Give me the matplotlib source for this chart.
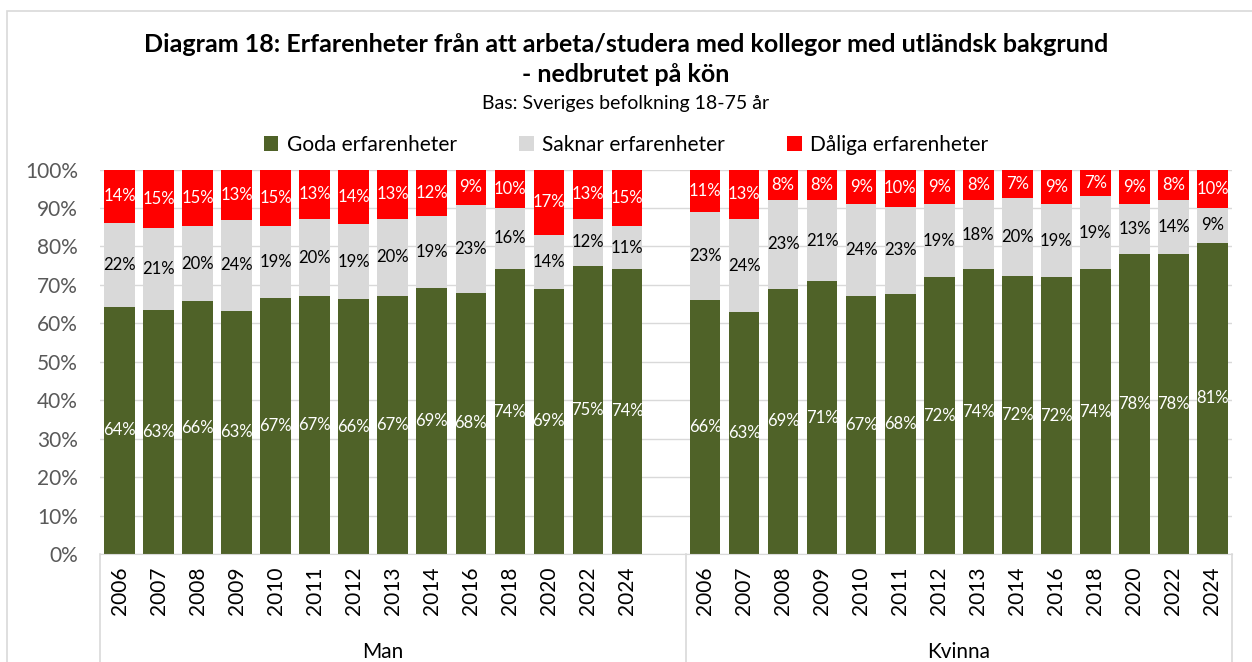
import matplotlib
matplotlib.use("Agg")
import matplotlib.pyplot as plt
import numpy as np
from matplotlib.patches import Rectangle
from matplotlib.lines import Line2D

plt.rcParams['font.family'] = ['Lato', 'DejaVu Sans']

# data
years = ["2006", "2007", "2008", "2009", "2010", "2011", "2012",
         "2013", "2014", "2016", "2018", "2020", "2022", "2024"]
groups = ["Man", "Kvinna"]
series_names = ["Goda erfarenheter", "Saknar erfarenheter", "Dåliga erfarenheter"]

man_goda = [64.3, 63.4, 65.7, 63.3, 66.6, 67.0, 66.3, 67.2, 69.2, 68.0, 74.1, 69.0, 75.0, 74.2]
man_saknar = [21.9, 21.3, 19.7, 23.6, 18.8, 20.2, 19.4, 20.0, 18.8, 22.8, 16.0, 14.0, 12.2, 11.0]
man_daliga = [13.8, 15.3, 14.6, 13.1, 14.6, 12.8, 14.3, 12.8, 12.0, 9.2, 9.9, 17.0, 12.8, 14.8]

kvinna_goda = [66, 63, 69, 71, 67, 67.6, 72, 74, 72.4, 72, 74, 78, 78, 81]
kvinna_saknar = [23, 24, 23, 21, 24, 22.7, 19, 18, 20.2, 19, 19, 13, 14, 9]
kvinna_daliga = [11, 13, 8, 8, 9, 9.7, 9, 8, 7.4, 9, 7, 9, 8, 10]

colors = ["#4f6228", "#d9d9d9", "#ff0000"]
label_colors = ["white", "black", "white"]

W, H = 1252, 662
fig = plt.figure(figsize=(W / 100, H / 100), dpi=100)
ax = fig.add_axes([100 / W, 1 - 554 / H, (1232 - 100) / W, (554 - 169.5) / H])

n = len(years)
x_man = np.arange(n)
x_kv = np.arange(n) + n + 1
xs = np.concatenate([x_man, x_kv])

data = [np.array(man_goda + kvinna_goda, dtype=float),
        np.array(man_saknar + kvinna_saknar, dtype=float),
        np.array(man_daliga + kvinna_daliga, dtype=float)]

bottom = np.zeros(len(xs))
for vals, col, lc, name in zip(data, colors, label_colors, series_names):
    ax.bar(xs, vals, bottom=bottom, width=0.785, color=col, label=name, zorder=2)
    for xi, b, v in zip(xs, bottom, vals):
        ax.text(xi, b + v / 2, f"{v:.0f}%", ha="center", va="center",
                color=lc, fontsize=12, zorder=3)
    bottom += vals

ax.set_xlim(-0.5, 2 * n + 0.5)
ax.set_ylim(0, 100)
ax.set_yticks(np.arange(0, 101, 10))
ax.set_yticklabels([f"{v}%" for v in range(0, 101, 10)], fontsize=15, color="#595959")
ax.yaxis.grid(True, color="#d9d9d9", linewidth=1, zorder=0)
ax.set_axisbelow(True)
ax.tick_params(axis="y", length=0, pad=16)
ax.tick_params(axis="x", length=0, pad=9)
ax.set_xticks(xs)
ax.set_xticklabels(years + years, rotation=90, fontsize=15, color="black")
for s in ["top", "right", "left"]:
    ax.spines[s].set_visible(False)
ax.spines["bottom"].set_color("#d9d9d9")

# group separators and labels
trans = ax.get_xaxis_transform()
for sx in [-0.5, n + 0.5, 2 * n + 0.5]:
    ax.add_line(Line2D([sx, sx], [0, -0.35], transform=trans, color="#d9d9d9",
                       linewidth=1.2, clip_on=False))
ax.text((n - 0.5) / 2, -0.255, groups[0], transform=trans,
        ha="center", va="center", fontsize=15)
ax.text(n + 0.5 + n / 2, -0.255, groups[1], transform=trans,
        ha="center", va="center", fontsize=15)

# titles
fig.text(0.5, 1 - 45 / H, "Diagram 18: Erfarenheter från att arbeta/studera med kollegor med utländsk bakgrund",
         ha="center", va="center", fontsize=18, fontweight="bold")
fig.text(0.5, 1 - 75 / H, "- nedbrutet på kön", ha="center", va="center",
         fontsize=18, fontweight="bold")
fig.text(0.5, 1 - 104 / H, "Bas: Sveriges befolkning 18-75 år", ha="center", va="center",
         fontsize=14)

fig.legend(loc="center", bbox_to_anchor=(0.5, 1 - 145 / H), ncol=3, frameon=False,
           fontsize=15, handlelength=0.7, handleheight=0.7, handletextpad=0.4,
           columnspacing=3.0)

# chart area border
fig.patches.append(Rectangle((7 / W, -0.5), 1.5, 1.5 - 11 / H, transform=fig.transFigure,
                             fill=False, edgecolor="#d9d9d9", linewidth=1.2))

fig.savefig("out.png", dpi=100)
